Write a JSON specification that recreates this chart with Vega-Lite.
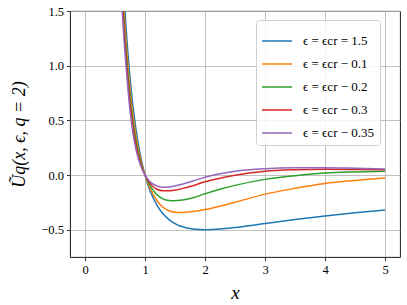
{
  "$schema": "https://vega.github.io/schema/vega-lite/v6.json",
  "width": 330,
  "height": 246,
  "autosize": {"type": "none"},
  "padding": {"left": 70, "top": 11, "right": 7, "bottom": 48},
  "background": "white",
  "config": {
    "view": {"stroke": "#000000", "strokeWidth": 0.9},
    "font": "Liberation Serif",
    "axis": {
      "domain": false,
      "grid": true,
      "gridColor": "#b0b0b0",
      "gridWidth": 0.8,
      "tickColor": "#000000",
      "tickSize": 3.5,
      "tickWidth": 0.8
    }
  },
  "datasets": {
    "curves": [
      {"s": "ϵ = ϵcr = 1.5", "x": 0.6, "y": 2.222},
      {"s": "ϵ = ϵcr = 1.5", "x": 0.62, "y": 1.977},
      {"s": "ϵ = ϵcr = 1.5", "x": 0.65, "y": 1.657},
      {"s": "ϵ = ϵcr = 1.5", "x": 0.68, "y": 1.384},
      {"s": "ϵ = ϵcr = 1.5", "x": 0.7, "y": 1.225},
      {"s": "ϵ = ϵcr = 1.5", "x": 0.75, "y": 0.889},
      {"s": "ϵ = ϵcr = 1.5", "x": 0.8, "y": 0.625},
      {"s": "ϵ = ϵcr = 1.5", "x": 0.85, "y": 0.415},
      {"s": "ϵ = ϵcr = 1.5", "x": 0.9, "y": 0.247},
      {"s": "ϵ = ϵcr = 1.5", "x": 0.95, "y": 0.111},
      {"s": "ϵ = ϵcr = 1.5", "x": 1.0, "y": 0.0},
      {"s": "ϵ = ϵcr = 1.5", "x": 1.05, "y": -0.091},
      {"s": "ϵ = ϵcr = 1.5", "x": 1.1, "y": -0.165},
      {"s": "ϵ = ϵcr = 1.5", "x": 1.2, "y": -0.278},
      {"s": "ϵ = ϵcr = 1.5", "x": 1.3, "y": -0.355},
      {"s": "ϵ = ϵcr = 1.5", "x": 1.4, "y": -0.408},
      {"s": "ϵ = ϵcr = 1.5", "x": 1.5, "y": -0.444},
      {"s": "ϵ = ϵcr = 1.5", "x": 1.6, "y": -0.469},
      {"s": "ϵ = ϵcr = 1.5", "x": 1.8, "y": -0.494},
      {"s": "ϵ = ϵcr = 1.5", "x": 2.0, "y": -0.5},
      {"s": "ϵ = ϵcr = 1.5", "x": 2.25, "y": -0.494},
      {"s": "ϵ = ϵcr = 1.5", "x": 2.5, "y": -0.48},
      {"s": "ϵ = ϵcr = 1.5", "x": 3.0, "y": -0.444},
      {"s": "ϵ = ϵcr = 1.5", "x": 3.5, "y": -0.408},
      {"s": "ϵ = ϵcr = 1.5", "x": 4.0, "y": -0.375},
      {"s": "ϵ = ϵcr = 1.5", "x": 4.5, "y": -0.346},
      {"s": "ϵ = ϵcr = 1.5", "x": 5.0, "y": -0.32},

      {"s": "ϵ = ϵcr − 0.1", "x": 0.6, "y": 2.032},
      {"s": "ϵ = ϵcr − 0.1", "x": 0.65, "y": 1.511},
      {"s": "ϵ = ϵcr − 0.1", "x": 0.7, "y": 1.108},
      {"s": "ϵ = ϵcr − 0.1", "x": 0.75, "y": 0.784},
      {"s": "ϵ = ϵcr − 0.1", "x": 0.8, "y": 0.539},
      {"s": "ϵ = ϵcr − 0.1", "x": 0.85, "y": 0.352},
      {"s": "ϵ = ϵcr − 0.1", "x": 0.9, "y": 0.206},
      {"s": "ϵ = ϵcr − 0.1", "x": 0.95, "y": 0.091},
      {"s": "ϵ = ϵcr − 0.1", "x": 1.0, "y": 0.0},
      {"s": "ϵ = ϵcr − 0.1", "x": 1.05, "y": -0.075},
      {"s": "ϵ = ϵcr − 0.1", "x": 1.1, "y": -0.14},
      {"s": "ϵ = ϵcr − 0.1", "x": 1.2, "y": -0.235},
      {"s": "ϵ = ϵcr − 0.1", "x": 1.3, "y": -0.295},
      {"s": "ϵ = ϵcr − 0.1", "x": 1.4, "y": -0.327},
      {"s": "ϵ = ϵcr − 0.1", "x": 1.5, "y": -0.34},
      {"s": "ϵ = ϵcr − 0.1", "x": 1.6, "y": -0.343},
      {"s": "ϵ = ϵcr − 0.1", "x": 1.8, "y": -0.333},
      {"s": "ϵ = ϵcr − 0.1", "x": 2.0, "y": -0.315},
      {"s": "ϵ = ϵcr − 0.1", "x": 2.25, "y": -0.285},
      {"s": "ϵ = ϵcr − 0.1", "x": 2.5, "y": -0.25},
      {"s": "ϵ = ϵcr − 0.1", "x": 3.0, "y": -0.175},
      {"s": "ϵ = ϵcr − 0.1", "x": 3.5, "y": -0.122},
      {"s": "ϵ = ϵcr − 0.1", "x": 4.0, "y": -0.078},
      {"s": "ϵ = ϵcr − 0.1", "x": 4.5, "y": -0.05},
      {"s": "ϵ = ϵcr − 0.1", "x": 5.0, "y": -0.028},

      {"s": "ϵ = ϵcr − 0.2", "x": 0.6, "y": 1.897},
      {"s": "ϵ = ϵcr − 0.2", "x": 0.65, "y": 1.407},
      {"s": "ϵ = ϵcr − 0.2", "x": 0.7, "y": 1.024},
      {"s": "ϵ = ϵcr − 0.2", "x": 0.75, "y": 0.71},
      {"s": "ϵ = ϵcr − 0.2", "x": 0.8, "y": 0.478},
      {"s": "ϵ = ϵcr − 0.2", "x": 0.85, "y": 0.307},
      {"s": "ϵ = ϵcr − 0.2", "x": 0.9, "y": 0.177},
      {"s": "ϵ = ϵcr − 0.2", "x": 0.95, "y": 0.077},
      {"s": "ϵ = ϵcr − 0.2", "x": 1.0, "y": 0.0},
      {"s": "ϵ = ϵcr − 0.2", "x": 1.05, "y": -0.06},
      {"s": "ϵ = ϵcr − 0.2", "x": 1.1, "y": -0.11},
      {"s": "ϵ = ϵcr − 0.2", "x": 1.2, "y": -0.18},
      {"s": "ϵ = ϵcr − 0.2", "x": 1.3, "y": -0.218},
      {"s": "ϵ = ϵcr − 0.2", "x": 1.4, "y": -0.233},
      {"s": "ϵ = ϵcr − 0.2", "x": 1.5, "y": -0.235},
      {"s": "ϵ = ϵcr − 0.2", "x": 1.6, "y": -0.23},
      {"s": "ϵ = ϵcr − 0.2", "x": 1.8, "y": -0.208},
      {"s": "ϵ = ϵcr − 0.2", "x": 2.0, "y": -0.172},
      {"s": "ϵ = ϵcr − 0.2", "x": 2.25, "y": -0.13},
      {"s": "ϵ = ϵcr − 0.2", "x": 2.5, "y": -0.095},
      {"s": "ϵ = ϵcr − 0.2", "x": 3.0, "y": -0.04},
      {"s": "ϵ = ϵcr − 0.2", "x": 3.5, "y": -0.006},
      {"s": "ϵ = ϵcr − 0.2", "x": 4.0, "y": 0.018},
      {"s": "ϵ = ϵcr − 0.2", "x": 4.5, "y": 0.028},
      {"s": "ϵ = ϵcr − 0.2", "x": 5.0, "y": 0.034},

      {"s": "ϵ = ϵcr − 0.3", "x": 0.6, "y": 1.788},
      {"s": "ϵ = ϵcr − 0.3", "x": 0.65, "y": 1.323},
      {"s": "ϵ = ϵcr − 0.3", "x": 0.7, "y": 0.957},
      {"s": "ϵ = ϵcr − 0.3", "x": 0.75, "y": 0.65},
      {"s": "ϵ = ϵcr − 0.3", "x": 0.8, "y": 0.429},
      {"s": "ϵ = ϵcr − 0.3", "x": 0.85, "y": 0.271},
      {"s": "ϵ = ϵcr − 0.3", "x": 0.9, "y": 0.153},
      {"s": "ϵ = ϵcr − 0.3", "x": 0.95, "y": 0.066},
      {"s": "ϵ = ϵcr − 0.3", "x": 1.0, "y": 0.0},
      {"s": "ϵ = ϵcr − 0.3", "x": 1.05, "y": -0.05},
      {"s": "ϵ = ϵcr − 0.3", "x": 1.1, "y": -0.088},
      {"s": "ϵ = ϵcr − 0.3", "x": 1.2, "y": -0.13},
      {"s": "ϵ = ϵcr − 0.3", "x": 1.3, "y": -0.144},
      {"s": "ϵ = ϵcr − 0.3", "x": 1.4, "y": -0.145},
      {"s": "ϵ = ϵcr − 0.3", "x": 1.5, "y": -0.138},
      {"s": "ϵ = ϵcr − 0.3", "x": 1.6, "y": -0.127},
      {"s": "ϵ = ϵcr − 0.3", "x": 1.8, "y": -0.098},
      {"s": "ϵ = ϵcr − 0.3", "x": 2.0, "y": -0.062},
      {"s": "ϵ = ϵcr − 0.3", "x": 2.25, "y": -0.03},
      {"s": "ϵ = ϵcr − 0.3", "x": 2.5, "y": -0.002},
      {"s": "ϵ = ϵcr − 0.3", "x": 3.0, "y": 0.034},
      {"s": "ϵ = ϵcr − 0.3", "x": 3.5, "y": 0.048},
      {"s": "ϵ = ϵcr − 0.3", "x": 4.0, "y": 0.053},
      {"s": "ϵ = ϵcr − 0.3", "x": 4.5, "y": 0.051},
      {"s": "ϵ = ϵcr − 0.3", "x": 5.0, "y": 0.047},

      {"s": "ϵ = ϵcr − 0.35", "x": 0.6, "y": 1.68},
      {"s": "ϵ = ϵcr − 0.35", "x": 0.65, "y": 1.24},
      {"s": "ϵ = ϵcr − 0.35", "x": 0.7, "y": 0.89},
      {"s": "ϵ = ϵcr − 0.35", "x": 0.75, "y": 0.59},
      {"s": "ϵ = ϵcr − 0.35", "x": 0.8, "y": 0.38},
      {"s": "ϵ = ϵcr − 0.35", "x": 0.85, "y": 0.235},
      {"s": "ϵ = ϵcr − 0.35", "x": 0.9, "y": 0.13},
      {"s": "ϵ = ϵcr − 0.35", "x": 0.95, "y": 0.055},
      {"s": "ϵ = ϵcr − 0.35", "x": 1.0, "y": 0.0},
      {"s": "ϵ = ϵcr − 0.35", "x": 1.05, "y": -0.04},
      {"s": "ϵ = ϵcr − 0.35", "x": 1.1, "y": -0.07},
      {"s": "ϵ = ϵcr − 0.35", "x": 1.2, "y": -0.1},
      {"s": "ϵ = ϵcr − 0.35", "x": 1.3, "y": -0.112},
      {"s": "ϵ = ϵcr − 0.35", "x": 1.4, "y": -0.11},
      {"s": "ϵ = ϵcr − 0.35", "x": 1.5, "y": -0.1},
      {"s": "ϵ = ϵcr − 0.35", "x": 1.6, "y": -0.087},
      {"s": "ϵ = ϵcr − 0.35", "x": 1.8, "y": -0.055},
      {"s": "ϵ = ϵcr − 0.35", "x": 2.0, "y": -0.02},
      {"s": "ϵ = ϵcr − 0.35", "x": 2.25, "y": 0.012},
      {"s": "ϵ = ϵcr − 0.35", "x": 2.5, "y": 0.035},
      {"s": "ϵ = ϵcr − 0.35", "x": 3.0, "y": 0.058},
      {"s": "ϵ = ϵcr − 0.35", "x": 3.5, "y": 0.066},
      {"s": "ϵ = ϵcr − 0.35", "x": 4.0, "y": 0.067},
      {"s": "ϵ = ϵcr − 0.35", "x": 4.5, "y": 0.062},
      {"s": "ϵ = ϵcr − 0.35", "x": 5.0, "y": 0.055}
    ]
  },
  "layer": [
    {
      "mark": {"type": "rule", "color": "#808080", "strokeWidth": 0.8, "strokeDash": [3, 2]},
      "encoding": {"x": {"datum": 1, "type": "quantitative"}}
    },
    {
      "data": {"name": "curves"},
      "mark": {"type": "line", "strokeWidth": 1.5, "clip": true, "interpolate": "monotone"},
      "encoding": {
        "x": {
          "field": "x",
          "type": "quantitative",
          "scale": {"domain": [-0.25, 5.25], "nice": false, "zero": false},
          "axis": {
            "values": [0, 1, 2, 3, 4, 5], "format": "d",
            "labelFont": "Liberation Serif", "labelFontSize": 12.5, "labelColor": "#000000", "labelPadding": 3,
            "title": "x", "titleFont": "Liberation Serif", "titleFontStyle": "italic", "titleFontWeight": "normal",
            "titleFontSize": 19, "titleColor": "#000000", "titleY": 35, "titleBaseline": "middle"
          }
        },
        "y": {
          "field": "y",
          "type": "quantitative",
          "scale": {"domain": [-0.75, 1.5], "nice": false, "zero": false},
          "axis": {
            "values": [-0.5, 0, 0.5, 1, 1.5], "format": ".1f",
            "labelFont": "Liberation Serif", "labelFontSize": 12.5, "labelColor": "#000000", "labelPadding": 3,
            "title": "Ũq(x, ϵ, q = 2)", "titleFont": "Liberation Serif", "titleFontStyle": "italic", "titleFontWeight": "normal",
            "titleFontSize": 18, "titleColor": "#000000", "titleX": -51, "titleBaseline": "middle"
          }
        },
        "color": {
          "field": "s",
          "type": "nominal",
          "sort": ["ϵ = ϵcr = 1.5", "ϵ = ϵcr − 0.1", "ϵ = ϵcr − 0.2", "ϵ = ϵcr − 0.3", "ϵ = ϵcr − 0.35"],
          "scale": {
            "domain": ["ϵ = ϵcr = 1.5", "ϵ = ϵcr − 0.1", "ϵ = ϵcr − 0.2", "ϵ = ϵcr − 0.3", "ϵ = ϵcr − 0.35"],
            "range": ["#1f77b4", "#ff7f0e", "#2ca02c", "#d62728", "#9467bd"]
          },
          "legend": {
            "title": null,
            "orient": "none",
            "legendX": 186,
            "legendY": 9,
            "symbolType": "stroke",
            "symbolSize": 900,
            "symbolStrokeWidth": 1.5,
            "labelFont": "Liberation Serif",
            "labelFontSize": 13,
            "labelColor": "#000000",
            "labelOffset": 10,
            "fillColor": "rgba(255,255,255,0.85)",
            "strokeColor": "#d0d0d0",
            "cornerRadius": 3,
            "padding": 5,
            "rowPadding": 0
          }
        }
      }
    }
  ]
}
